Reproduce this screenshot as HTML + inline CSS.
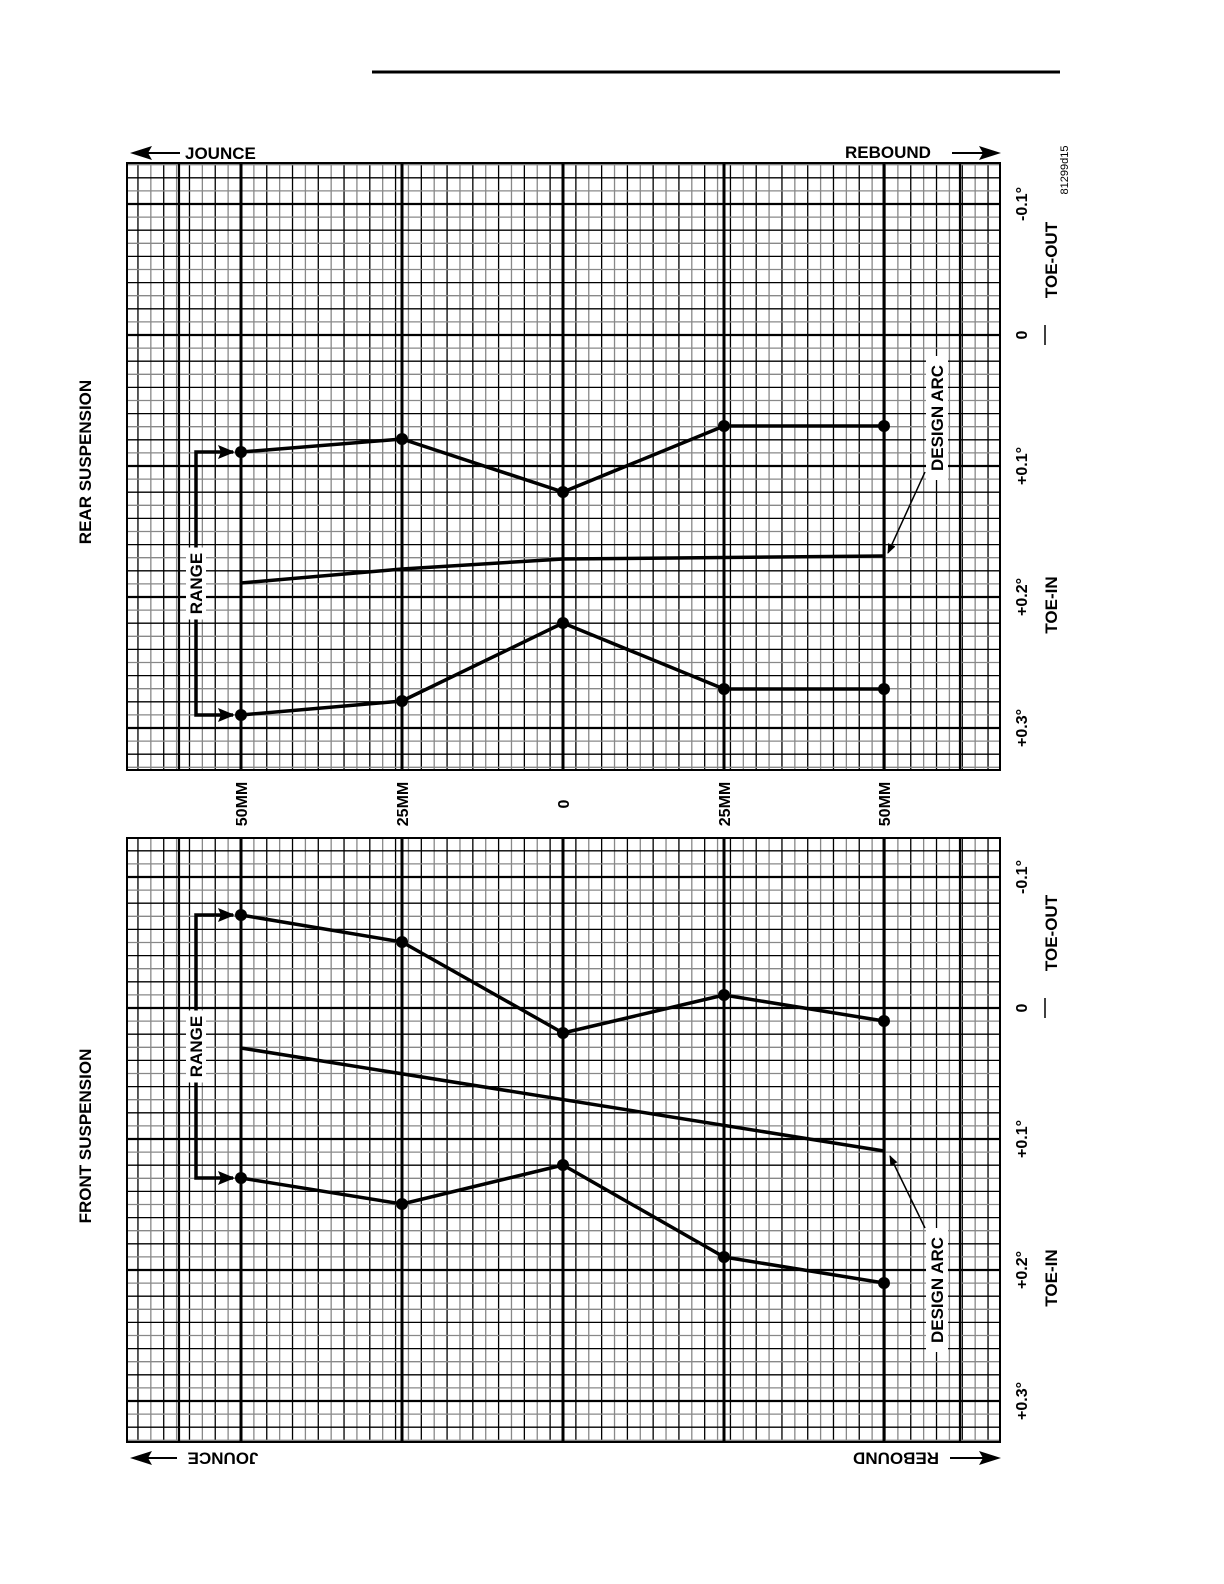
<!DOCTYPE html>
<html><head><meta charset="utf-8"><style>
html,body{margin:0;padding:0;background:#fff;overflow:hidden;width:1224px;height:1584px;}
svg{display:block;font-family:"Liberation Sans",Arial,sans-serif;font-weight:bold;}
</style></head><body>
<svg id="s" width="1224" height="1584" viewBox="0 0 1224 1584" xmlns="http://www.w3.org/2000/svg">
<defs>
<marker id="ar" markerWidth="10" markerHeight="8" refX="9" refY="4" orient="auto" markerUnits="userSpaceOnUse"><path d="M0,0 L10,4 L0,8 Z" fill="#000"/></marker>
</defs>
<rect width="1224" height="1584" fill="#fff"/>
<line x1="372" y1="72" x2="1060" y2="72" stroke="#000" stroke-width="3"/>
<g id="g"></g>
<text x="185" y="159" font-size="17">JOUNCE</text>
<line x1="180" y1="153" x2="145" y2="153" stroke="#000" stroke-width="2"/>
<path d="M130,153 L152,146 L148,153 L152,160 Z" fill="#000"/>
<text x="845" y="158" font-size="17">REBOUND</text>
<line x1="952" y1="153" x2="988" y2="153" stroke="#000" stroke-width="2"/>
<path d="M1001,153 L979,146 L983,153 L979,160 Z" fill="#000"/>
<text transform="translate(223,1458) rotate(180)" font-size="17" text-anchor="middle" dominant-baseline="central">JOUNCE</text>
<line x1="177" y1="1458" x2="145" y2="1458" stroke="#000" stroke-width="2"/>
<path d="M130,1458 L152,1451 L148,1458 L152,1465 Z" fill="#000"/>
<text transform="translate(896,1458) rotate(180)" font-size="17" text-anchor="middle" dominant-baseline="central">REBOUND</text>
<line x1="950" y1="1458" x2="988" y2="1458" stroke="#000" stroke-width="2"/>
<path d="M1001,1458 L979,1451 L983,1458 L979,1465 Z" fill="#000"/>
<text transform="translate(91,462) rotate(-90)" font-size="17" text-anchor="middle">REAR SUSPENSION</text>
<text transform="translate(91,1136) rotate(-90)" font-size="17" text-anchor="middle">FRONT SUSPENSION</text>
<text transform="translate(1068,170) rotate(-90)" font-size="11" font-weight="normal" text-anchor="middle">81299d15</text>
<g id="lab"></g>
</svg>
<script>
var g=document.getElementById('g'),L=document.getElementById('lab'),NS='http://www.w3.org/2000/svg';
function el(p,t,a,txt){var e=document.createElementNS(NS,t);for(var k in a)e.setAttribute(k,a[k]);if(txt)e.textContent=txt;p.appendChild(e);return e;}
function ln(x1,y1,x2,y2,c,w){el(g,'line',{x1:x1,y1:y1,x2:x2,y2:y2,stroke:c,'stroke-width':w});}
var majX=[241,402,563,724,884],cw=161/12.5;
function panel(top,bot,z){
 var x0=127,x1=1000;
 for(var i=-10;i<70;i++){var x=241+i*cw;if(x<=x0+1||x>=x1-1)continue;ln(x,top,x,bot,i%2?'#888':'#000',1.3);}
 for(var i=-20;i<60;i++){var y=z-131+i*13.1;if(y<=top+1||y>=bot-1)continue;ln(x0,y,x1,y,i%2?'#888':'#000',1.3);}
 for(var k=-1;k<4;k++){ln(x0,z+k*131,x1,z+k*131,'#000',2.2);}
 ln(179,top,179,bot,'#000',2.2);ln(960,top,960,bot,'#000',2.2);
 majX.forEach(function(x){ln(x,top,x,bot,'#000',3);});
 el(g,'rect',{x:x0,y:top,width:x1-x0,height:bot-top,fill:'none',stroke:'#000','stroke-width':2});
 var lbl=['-0.1°','0','+0.1°','+0.2°','+0.3°'];
 for(var k=0;k<5;k++){el(L,'text',{transform:'translate(1027,'+(z+(k-1)*131)+') rotate(-90)','font-size':16,'text-anchor':'middle'},lbl[k]);}
 el(L,'line',{x1:1045,y1:z-10,x2:1045,y2:z+10,stroke:'#000','stroke-width':1.5});
 el(L,'text',{transform:'translate(1057,'+(z-75)+') rotate(-90)','font-size':17,'text-anchor':'middle'},'TOE-OUT');
 el(L,'text',{transform:'translate(1057,'+(z+270)+') rotate(-90)','font-size':17,'text-anchor':'middle'},'TOE-IN');
}
panel(163,770,335);panel(838,1442,1008);
var mm=['50MM','25MM','0','25MM','50MM'];
majX.forEach(function(x,i){el(L,'text',{transform:'translate('+(x+6)+',804) rotate(-90)','font-size':16,'text-anchor':'middle'},mm[i]);});
function series(pts,dots){var d=pts.map(function(p,i){return (i?'L':'M')+p[0]+','+p[1];}).join(' ');
 el(L,'path',{d:d,fill:'none',stroke:'#000','stroke-width':3.5,'stroke-linejoin':'round'});
 if(dots)pts.forEach(function(p){el(L,'circle',{cx:p[0],cy:p[1],r:6,fill:'#000'});});}
series([[241,452],[402,439],[563,492],[724,426],[884,426]],1);
series([[241,715],[402,701],[563,623],[724,689],[884,689]],1);
series([[241,583],[402,569],[563,559],[884,556]],0);
series([[241,915],[402,942],[563,1033],[724,995],[884,1021]],1);
series([[241,1178],[402,1204],[563,1165],[724,1257],[884,1283]],1);
series([[241,1048],[884,1151]],0);
function range(y1,y2){
 el(L,'path',{d:'M233,'+y1+' L196,'+y1+' L196,'+y2+' L233,'+y2,fill:'none',stroke:'#000','stroke-width':3.5});
 [y1,y2].forEach(function(y){el(L,'path',{d:'M235,'+y+' L218,'+(y-7)+' L221,'+y+' L218,'+(y+7)+' Z',fill:'#000'});});
 var m=(y1+y2)/2;el(L,'rect',{x:186,y:m-36,width:20,height:72,fill:'#fff'});
 el(L,'text',{transform:'translate(202,'+m+') rotate(-90)','font-size':17,'text-anchor':'middle'},'RANGE');}
range(452,715);range(915,1178);
function arc(ly,x1,y1,x2,y2){
 el(L,'rect',{x:926,y:ly-62,width:22,height:124,fill:'#fff'});
 el(L,'text',{transform:'translate(943,'+ly+') rotate(-90)','font-size':17,'text-anchor':'middle'},'DESIGN ARC');
 el(L,'line',{x1:x1,y1:y1,x2:x2,y2:y2,stroke:'#000','stroke-width':1.5,'marker-end':'url(#ar)'});}
arc(418,925,472,888,553);arc(1290,925,1228,890,1156);
</script>
</body></html>
